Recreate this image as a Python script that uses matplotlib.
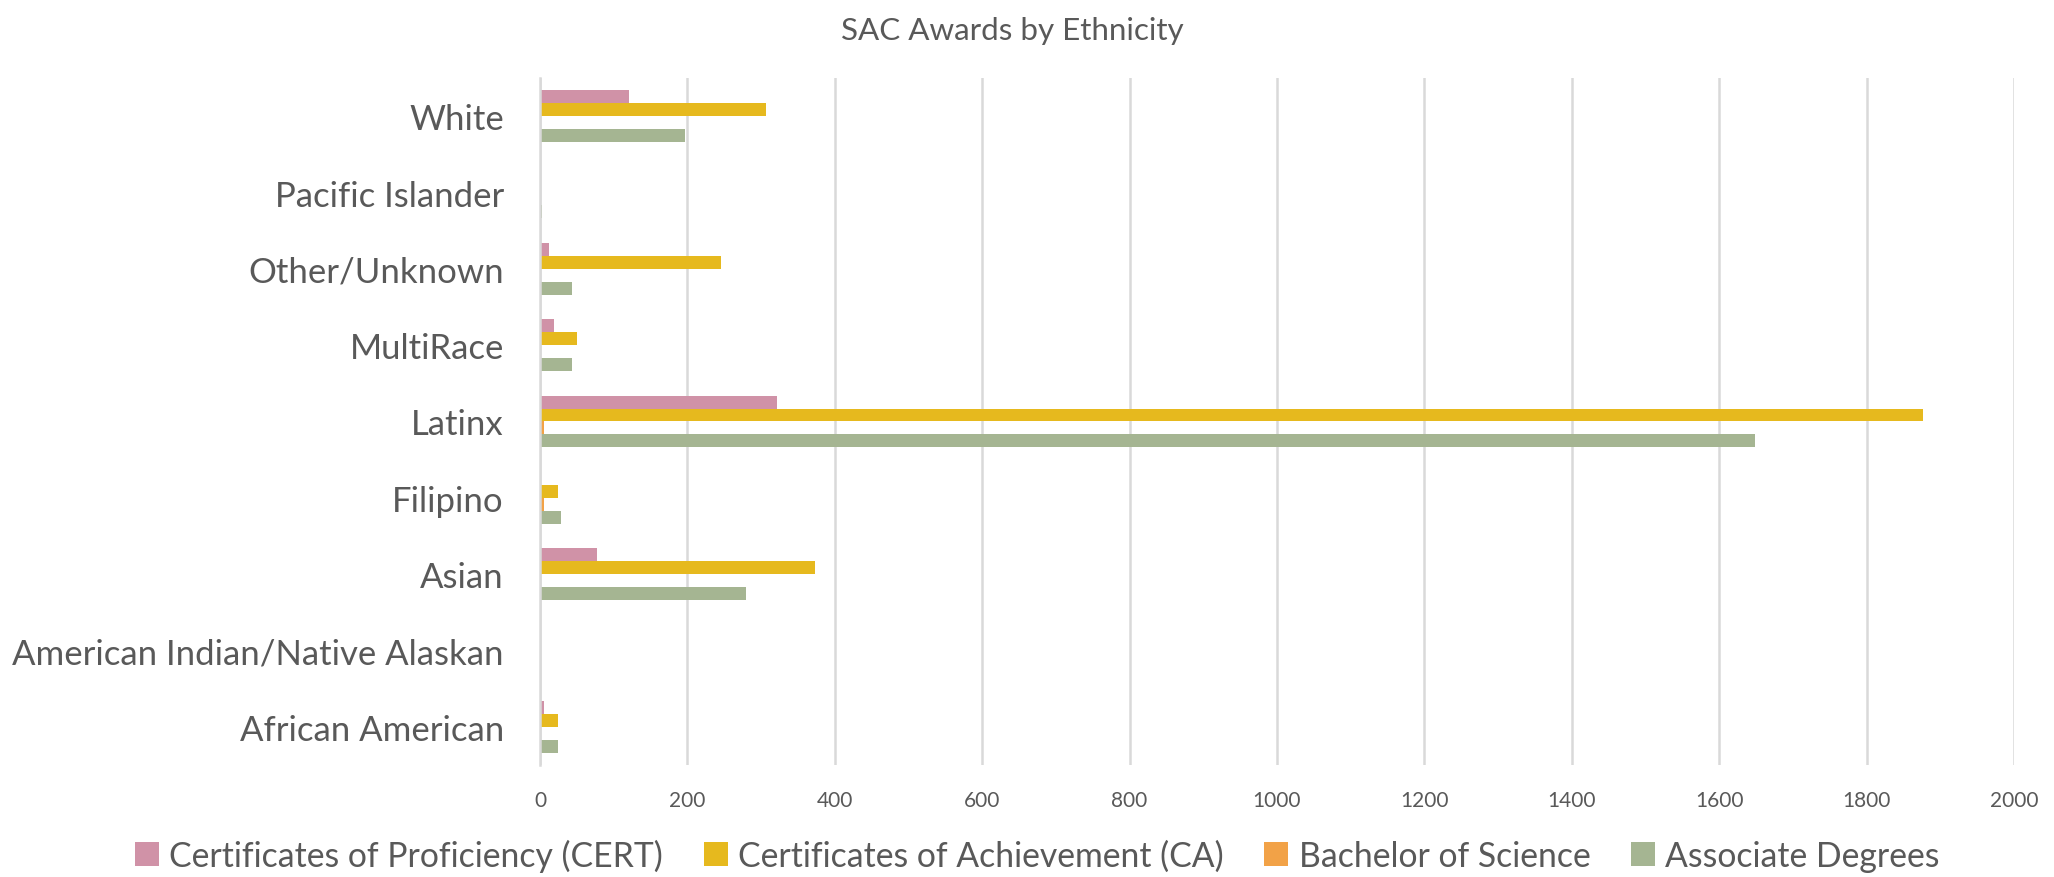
import numpy as np
import matplotlib
matplotlib.use("Agg")
import matplotlib.pyplot as plt
from matplotlib.patches import Patch

plt.rcParams["font.family"] = ["Lato", "DejaVu Sans"]

categories = [
    "African American",
    "American Indian/Native Alaskan",
    "Asian",
    "Filipino",
    "Latinx",
    "MultiRace",
    "Other/Unknown",
    "Pacific Islander",
    "White",
]
cert = [6, 0, 77, 0, 322, 19, 12, 2, 121]
ca = [25, 2, 373, 24, 1876, 50, 246, 2, 307]
bs = [0, 0, 0, 5, 5, 0, 0, 0, 2]
assoc = [25, 0, 280, 28, 1649, 43, 43, 3, 197]

series_names = [
    "Certificates of Proficiency (CERT)",
    "Certificates of Achievement (CA)",
    "Bachelor of Science",
    "Associate Degrees",
]
series_values = [cert, ca, bs, assoc]
colors = ["#D092A7", "#E6B91E", "#F2A247", "#A5B592"]
x_ticks = list(range(0, 2001, 200))

text_color = "#595959"
grid_color = "#D9D9D9"

fig = plt.figure(figsize=(20.54, 8.78), dpi=100)
ax = fig.add_axes([0.2629, 0.1276, 0.7176, 0.7824])

y = np.arange(len(categories))
bar_h = 0.17
offsets = [1.5 * bar_h, 0.5 * bar_h, -0.5 * bar_h, -1.5 * bar_h]
for vals, off, col in zip(series_values, offsets, colors):
    ax.barh(y + off, vals, height=bar_h, color=col, zorder=3)

ax.set_xlim(0, 2000)
ax.set_ylim(-0.5, len(categories) - 0.5)
ax.set_xticks(x_ticks)
ax.set_xticklabels([str(t) for t in x_ticks])
ax.set_yticks(y)
ax.set_yticklabels(categories)

ax.xaxis.grid(True, color=grid_color, linewidth=1.8, zorder=0)
ax.yaxis.grid(False)
for side in ["top", "right", "bottom"]:
    ax.spines[side].set_visible(False)
ax.spines["left"].set_color(grid_color)
ax.spines["left"].set_linewidth(1.8)
ax.spines["left"].set_zorder(4)

ax.tick_params(axis="x", length=0, pad=18, labelsize=15, labelcolor=text_color)
ax.tick_params(axis="y", length=0, pad=26, labelsize=25, labelcolor=text_color)

fig.text(0.493, 0.965, "SAC Awards by Ethnicity", ha="center", va="center",
         fontsize=22.6, color=text_color)

handles = [Patch(facecolor=c, edgecolor="none") for c in colors]
leg = fig.legend(handles, series_names, loc="center", bbox_to_anchor=(0.505, 0.025),
                 ncol=4, frameon=False, fontsize=24.3, handlelength=0.72,
                 handleheight=0.72, handletextpad=0.3, columnspacing=1.2)
for t in leg.get_texts():
    t.set_color(text_color)

fig.savefig("out.png", dpi=100, facecolor="white")
